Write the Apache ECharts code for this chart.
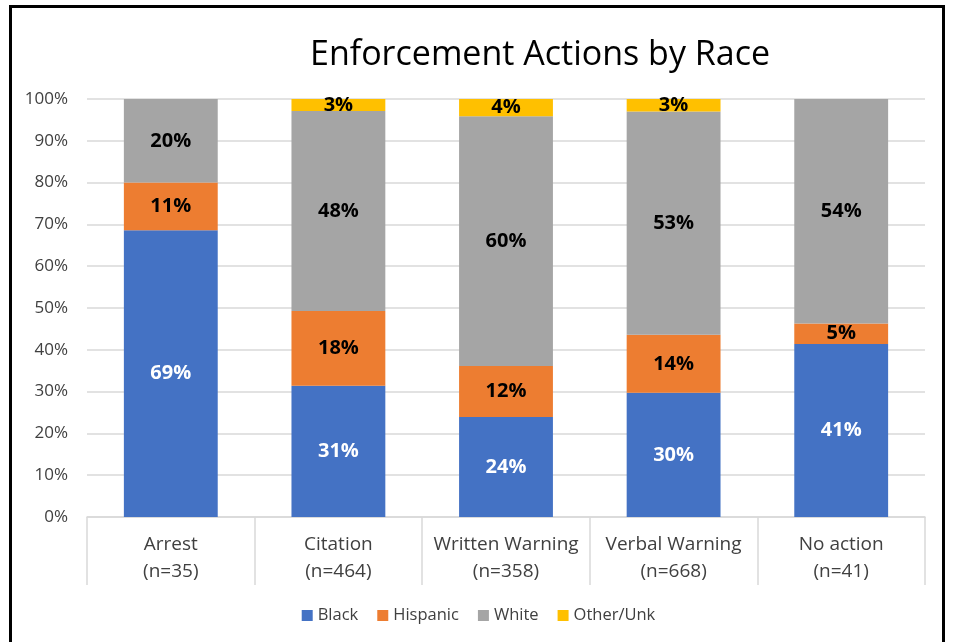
<!DOCTYPE html>
<html>
<head>
<meta charset="utf-8">
<script src="https://cdn.jsdelivr.net/npm/echarts@6/dist/echarts.min.js"></script>
<style>
html,body{margin:0;padding:0;background:#fff;}
#frame{position:absolute;left:9px;top:5px;width:936px;height:660px;border:3px solid #000;box-sizing:border-box;}
#chart{position:absolute;left:0;top:0;width:957px;height:642px;}
</style>
</head>
<body>
<div id="frame"></div>
<div id="chart"></div>
<script>
const categories = ['Arrest\n(n=35)', 'Citation\n(n=464)', 'Written Warning\n(n=358)', 'Verbal Warning\n(n=668)', 'No action\n(n=41)'];
const black    = [68.6, 31.4, 23.9, 29.7, 41.4];
const hispanic = [11.4, 17.9, 12.2, 13.9, 4.9];
const white    = [20.0, 47.8, 59.8, 53.4, 53.7];
const other    = [0, 2.9, 4.1, 3.0, 0];
const yTicks = [0, 10, 20, 30, 40, 50, 60, 70, 80, 90, 100];

const FONT = '"Open Sans", "Noto Sans", sans-serif';
const chart = echarts.init(document.getElementById('chart'));

function mkSeries(name, data, color, labelColor) {
  return {
    name: name, type: 'bar', stack: 'total', data: data, barWidth: '56%',
    itemStyle: { color: color },
    label: {
      show: true, position: 'inside', color: labelColor, fontWeight: 'bold',
      fontSize: 20, fontFamily: FONT,
      formatter: p => p.value > 0 ? Math.round(p.value) + '%' : ''
    }
  };
}

chart.setOption({
  animation: false,
  title: {
    text: 'Enforcement Actions by Race', left: 535, top: 33, textAlign: 'center',
    textStyle: { fontFamily: FONT, fontWeight: 'normal', fontSize: 34, color: '#000' }
  },
  grid: { left: 87, right: 32, top: 99, bottom: 125 },
  legend: {
    bottom: 13, left: 'center', itemWidth: 11, itemHeight: 11, itemGap: 19,
    icon: 'rect',
    textStyle: { fontFamily: FONT, fontSize: 16.5, color: '#404040' }
  },
  xAxis: {
    type: 'category', data: categories,
    axisLine: { lineStyle: { color: '#d9d9d9', width: 1.5 } },
    axisTick: { show: true, length: 68, lineStyle: { color: '#d9d9d9', width: 1.5 } },
    axisLabel: { fontFamily: FONT, fontSize: 19, color: '#404040', lineHeight: 27, margin: 14, interval: 0 }
  },
  yAxis: {
    type: 'value', min: 0, max: 100, interval: 10,
    axisLabel: { formatter: v => yTicks.includes(v) ? v + '%' : '', fontFamily: FONT, fontSize: 17, color: '#404040', margin: 19 },
    splitLine: { lineStyle: { color: '#d9d9d9', width: 1.5 } },
    axisLine: { show: false }, axisTick: { show: false }
  },
  series: [
    mkSeries('Black', black, '#4472c4', '#fff'),
    mkSeries('Hispanic', hispanic, '#ed7d31', '#000'),
    mkSeries('White', white, '#a5a5a5', '#000'),
    mkSeries('Other/Unk', other, '#ffc000', '#000')
  ]
});
</script>
</body>
</html>
